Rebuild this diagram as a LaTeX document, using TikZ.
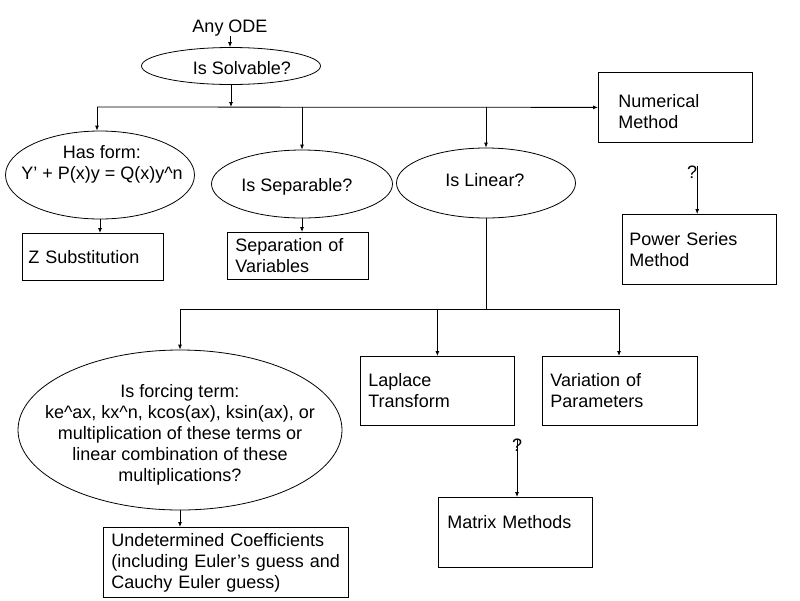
\documentclass[tikz,border=0pt]{standalone}
\usepackage{fontspec}
\setmainfont{Liberation Sans}
\usetikzlibrary{shapes.geometric,arrows.meta}

\tikzset{
  every node/.style={font=\fontsize{18}{21}\selectfont},
  decision/.style={draw, ellipse, inner sep=0pt, line width=0.8pt},
  method/.style={draw, rectangle, anchor=north west, inner ysep=0pt, line width=0.8pt, align=left},
  txt/.style={align=center, inner sep=0pt},
  wire/.style={line width=0.8pt},
  arr/.style={-{Latex[length=5pt,width=4pt]}, line width=0.8pt}
}

\begin{document}
\begin{tikzpicture}[x=1pt, y=-1pt]
        \useasboundingbox (0,0) rectangle (800,600);

        % Start
        \node[txt] (ode) at (230,28) {Any ODE};

        % Questions (ellipses, text placed on top)
        \node[decision, minimum width=179pt, minimum height=37pt] (solvable) at (231,66) {};
        \node[txt] (solvabletxt) at (242,68) {Is Solvable?};

        \node[decision, minimum width=189pt, minimum height=88pt] (hasform) at (100,175) {};
        \node[txt] (hasformtxt) at (102,164) {Has form:\\Y’ + P(x)y = Q(x)y\textasciicircum n};

        \node[decision, minimum width=181pt, minimum height=68pt] (separable) at (302,184) {};
        \node[txt] (separabletxt) at (297,187) {Is Separable?};

        \node[decision, minimum width=179pt, minimum height=70pt] (linear) at (486,183) {};
        \node[txt] (lineartxt) at (485,180) {Is Linear?};

        \node[decision, minimum width=324pt, minimum height=160pt] (forcing) at (180,430) {};
        \node[txt] (forcingtxt) at (180,435) {Is forcing term:\\ke\textasciicircum ax, kx\textasciicircum n, kcos(ax), ksin(ax), or\\multiplication of these terms or\\linear combination of these\\multiplications?};

        % Methods (boxes)
        \node[method, inner xsep=6pt, text width=129pt, minimum height=47pt] (zsub) at (22,233) {Z Substitution};
        \node[method, inner xsep=8pt, text width=125pt, minimum height=47pt] (sepvar) at (227,232) {Separation of\\Variables};
        \node[method, inner xsep=20pt, text width=114pt, minimum height=70pt] (numer) at (598,72) {\rule{0pt}{21pt}Numerical\\Method};
        \node[method, inner xsep=7pt, text width=140pt, minimum height=70pt] (power) at (622,214) {Power Series\\Method};
        \node[method, inner xsep=8pt, text width=138pt, minimum height=69pt] (laplace) at (360,356) {Laplace\\Transform};
        \node[method, inner xsep=8pt, text width=139pt, minimum height=69pt] (varpar) at (542,356) {Variation of\\Parameters};
        \node[method, inner xsep=9pt, text width=136pt, minimum height=70pt] (matrix) at (438,497) {Matrix Methods\\\mbox{}};
        \node[method, inner xsep=8pt, text width=229pt, minimum height=70pt] (undet) at (103,527) {Undetermined Coefficients\\(including Euler’s guess and\\Cauchy Euler guess)};

        % Question marks
        \node[txt] (qpower) at (692,172) {?};
        \node[txt] (qmatrix) at (517,445) {?};

        % Bus lines
        \coordinate (busA) at (97,107);
        \coordinate (busB) at (180,309);
        \coordinate (busBR) at (619,309);

        % Connectors
        \draw[arr] (ode.south) -- (ode.south |- solvable.north);
        \draw[arr] (solvable.south) -- (solvable.south |- busA);
        \draw[arr] (busA) -- (numer.west);
        \draw[arr] (busA) -- (busA |- hasform.north);
        \draw[arr] (separable.north |- busA) -- (separable.north);
        \draw[arr] (linear.north |- busA) -- (linear.north);

        \draw[arr] (hasform.south) -- (hasform.south |- zsub.north);
        \draw[arr] (separable.south) -- (separable.south |- sepvar.north);

        \draw[wire] (linear.south) -- (linear.south |- busB);
        \draw[wire] (busB) -- (busBR);
        \draw[arr] (busB) -- (forcing.north);
        \draw[arr] (laplace.north |- busB) -- (laplace.north);
        \draw[arr] (busBR) -- (busBR |- varpar.north);
        \draw[arr] (forcing.south) -- (forcing.south |- undet.north);

        \draw[arr] (qpower.north east) -- (qpower.north east |- power.north);
        \draw[arr] (qmatrix.north) -- (qmatrix.north |- matrix.north);

    \end{tikzpicture}
\end{document}
